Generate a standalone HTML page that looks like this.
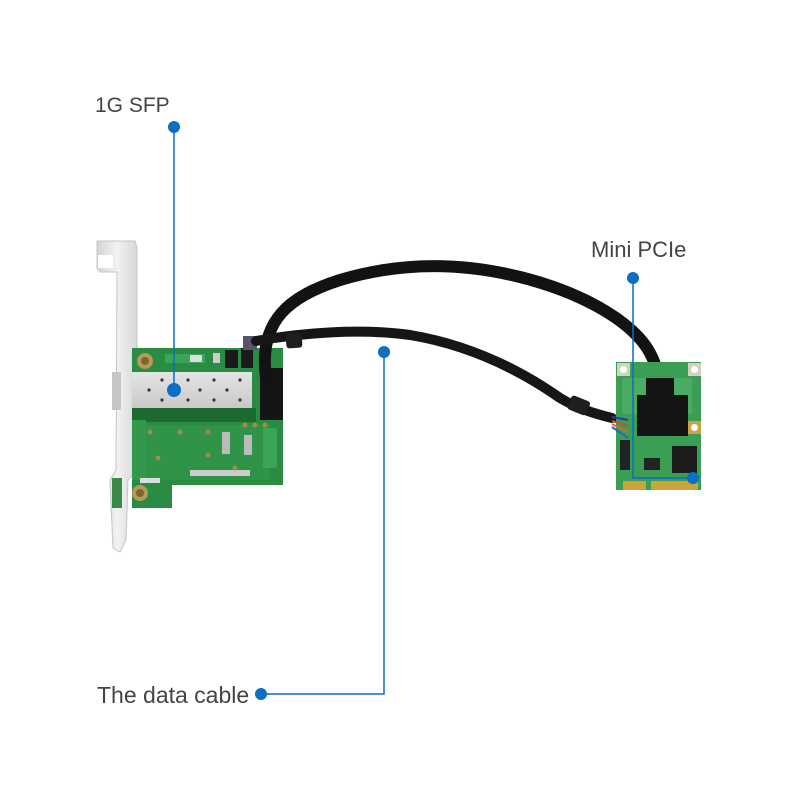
<!DOCTYPE html>
<html><head><meta charset="utf-8"><style>
html,body{margin:0;padding:0;background:#fff;}
svg{display:block;}
text{font-family:"Liberation Sans",sans-serif;fill:#444;}
</style></head><body>
<svg width="800" height="800" viewBox="0 0 800 800" xmlns="http://www.w3.org/2000/svg">
<defs>
<linearGradient id="cage" x1="0" y1="0" x2="0" y2="1">
<stop offset="0" stop-color="#e4e4e4"/><stop offset="1" stop-color="#c9c9c9"/>
</linearGradient>
<linearGradient id="brk" x1="0" y1="0" x2="1" y2="0">
<stop offset="0" stop-color="#d4d4d4"/><stop offset="0.5" stop-color="#f2f2f2"/><stop offset="1" stop-color="#d8d8d8"/>
</linearGradient>
</defs>
<rect width="800" height="800" fill="#fff"/>

<!-- bracket -->
<polygon points="97,241 135,241 137,248 137,470 128,480 126,540 120,552 113,548 110,480 116,470 117,272 100,272 97,268" fill="url(#brk)" stroke="#c4c4c4" stroke-width="1"/>
<rect x="98" y="255" width="15" height="13" fill="#fff"/>
<rect x="112" y="372" width="9" height="38" fill="#c6c6c6"/>
<rect x="112" y="478" width="10" height="30" fill="#3c8a4a"/>

<!-- main PCB -->
<path d="M132,348 H283 V485 H172 V508 H132 Z" fill="#2a8c43"/>
<rect x="132" y="408" width="124" height="14" fill="#1c6a32"/>
<rect x="140" y="425" width="130" height="55" fill="#2f9447"/>
<rect x="132" y="420" width="14" height="60" fill="#34984c"/>
<!-- screws -->
<circle cx="145" cy="361" r="8" fill="#b39a55"/><circle cx="145" cy="361" r="4" fill="#7a6630"/>
<circle cx="140" cy="493" r="8" fill="#b39a55"/><circle cx="140" cy="493" r="4" fill="#7a6630"/>
<!-- small components top -->
<rect x="165" y="354" width="40" height="9" fill="#3aa556"/>
<rect x="190" y="355" width="12" height="7" fill="#ddd"/>
<rect x="213" y="353" width="7" height="10" fill="#ccc"/>
<rect x="225" y="350" width="13" height="18" fill="#1a1a1a"/>
<rect x="241" y="348" width="12" height="20" fill="#1a1a1a"/>
<!-- components bottom -->
<rect x="222" y="432" width="8" height="22" fill="#bbb"/>
<rect x="244" y="435" width="8" height="20" fill="#bbb"/>
<rect x="263" y="428" width="14" height="40" fill="#3aa556"/>
<rect x="190" y="470" width="60" height="6" fill="#ccc"/>
<rect x="140" y="478" width="20" height="5" fill="#ddd"/>
<g fill="#a88a48">
<circle cx="150" cy="432" r="2.5"/><circle cx="180" cy="432" r="2.5"/><circle cx="208" cy="432" r="2.5"/>
<circle cx="158" cy="458" r="2.5"/><circle cx="208" cy="455" r="2.5"/><circle cx="235" cy="468" r="2.5"/>
<circle cx="245" cy="425" r="2.5"/><circle cx="255" cy="425" r="2.5"/><circle cx="265" cy="425" r="2.5"/>
</g>
<!-- SFP cage -->
<rect x="132" y="372" width="120" height="36" fill="url(#cage)"/>
<g fill="#333">
<circle cx="162" cy="380" r="1.6"/><circle cx="188" cy="380" r="1.6"/><circle cx="214" cy="380" r="1.6"/><circle cx="240" cy="380" r="1.6"/>
<circle cx="149" cy="390" r="1.6"/><circle cx="200" cy="390" r="1.6"/><circle cx="227" cy="390" r="1.6"/>
<circle cx="162" cy="400" r="1.6"/><circle cx="188" cy="400" r="1.6"/><circle cx="214" cy="400" r="1.6"/><circle cx="240" cy="400" r="1.6"/>
</g>
<!-- right connector -->
<rect x="260" y="368" width="23" height="52" fill="#151515"/>
<rect x="243" y="336" width="14" height="14" fill="#556" />

<!-- cables -->
<path d="M266,378 C258,320 290,296 340,280 C400,262 460,262 520,277 C580,292 625,318 645,345 C657,362 660,380 660,395" fill="none" stroke="#121212" stroke-width="12" stroke-linecap="round"/>
<path d="M256,341 C300,333 360,328 410,335 C470,345 520,370 560,398 C580,410 600,415 612,418" fill="none" stroke="#161616" stroke-width="10" stroke-linecap="round"/>
<rect x="286" y="333" width="16" height="15" rx="3" fill="#1e1e1e" transform="rotate(-4 294 340)"/>
<rect x="569" y="398" width="20" height="15" rx="3" fill="#1e1e1e" transform="rotate(22 579 405)"/>

<!-- mini PCIe card -->
<rect x="616" y="362" width="85" height="128" fill="#3b9e55"/>
<rect x="622" y="378" width="70" height="36" fill="#4aab63"/>
<rect x="617" y="363" width="13" height="13" fill="#d5d0c0"/><circle cx="623.5" cy="369.5" r="3.5" fill="#fff"/>
<rect x="688" y="363" width="13" height="13" fill="#d5d0c0"/><circle cx="694.5" cy="369.5" r="3.5" fill="#fff"/>
<rect x="688" y="421" width="13" height="13" fill="#c9a24a"/><circle cx="694.5" cy="427.5" r="3.5" fill="#fff"/>
<path d="M646,378 H674 V395 H688 V436 H637 V395 H646 Z" fill="#141414"/>
<rect x="672" y="446" width="25" height="27" fill="#1c1c1c"/>
<rect x="644" y="458" width="16" height="12" fill="#222"/>
<rect x="620" y="440" width="10" height="30" fill="#222"/>
<g stroke-width="2" fill="none">
<path d="M612,417 L628,420" stroke="#1e40b0"/>
<path d="M612,421 L628,426" stroke="#c0552a"/>
<path d="M612,424 L628,432" stroke="#d06a30"/>
<path d="M612,427 L628,438" stroke="#2a66c0"/>
</g>
<rect x="623" y="481" width="23" height="9" fill="#caa63a"/>
<rect x="651" y="481" width="47" height="9" fill="#caa63a"/>

<!-- callout lines -->
<g stroke="#0b6fc4" stroke-width="1.5" fill="none">
<path d="M174,127 V390"/>
<path d="M633,278 V478 H693"/>
<path d="M384,352 V694 H261"/>
</g>
<g fill="#0b6fc4">
<circle cx="174" cy="127" r="6"/>
<circle cx="174" cy="390" r="7"/>
<circle cx="633" cy="278" r="6"/>
<circle cx="693" cy="478" r="6"/>
<circle cx="384" cy="352" r="6"/>
<circle cx="261" cy="694" r="6"/>
</g>

<!-- labels -->
<text x="95" y="112" font-size="21">1G SFP</text>
<text x="591" y="257" font-size="22">Mini PCIe</text>
<text x="97" y="703" font-size="23">The data cable</text>
</svg>
</body></html>
